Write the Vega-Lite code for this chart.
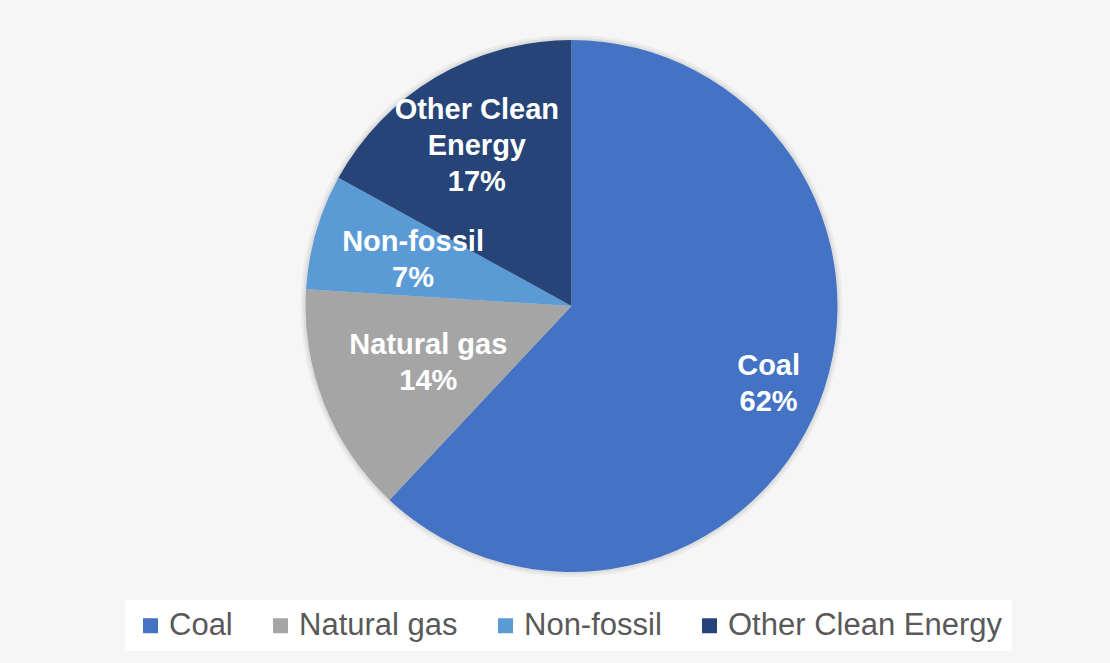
{
  "$schema": "https://vega.github.io/schema/vega-lite/v6.json",
  "width": 1077,
  "height": 590,
  "autosize": {"type": "none"},
  "padding": {"left": 33, "top": 11, "right": 0, "bottom": 62},
  "background": "#f6f6f6",
  "config": {"view": {"stroke": null}},
  "data": {
    "values": [
      {"category": "Coal", "share": 62, "label": "Coal|62%"},
      {"category": "Natural gas", "share": 14, "label": "Natural gas|14%"},
      {"category": "Non-fossil", "share": 7, "label": "Non-fossil|7%"},
      {"category": "Other Clean Energy", "share": 17, "label": "Other Clean|Energy|17%"}
    ]
  },
  "encoding": {
    "theta": {"field": "share", "type": "quantitative", "stack": true},
    "order": {"field": "category", "sort": "ascending"}
  },
  "layer": [
    {
      "mark": {"type": "arc", "radius": 271, "fill": "#000000", "opacity": 0.04},
      "encoding": {"detail": {"field": "category"}}
    },
    {
      "mark": {"type": "arc", "radius": 268.5, "fill": "#000000", "opacity": 0.06},
      "encoding": {"detail": {"field": "category"}}
    },
    {
      "mark": {"type": "arc", "radius": 266},
      "encoding": {
        "color": {
          "field": "category",
          "type": "nominal",
          "scale": {
            "domain": ["Coal", "Natural gas", "Non-fossil", "Other Clean Energy"],
            "range": ["#4472C4", "#A5A5A5", "#5B9BD5", "#264478"]
          },
          "legend": {
            "title": null,
            "orient": "none",
            "legendX": 92,
            "legendY": 589,
            "direction": "horizontal",
            "symbolType": "square",
            "symbolSize": 225,
            "symbolStrokeWidth": 0,
            "labelFont": "Liberation Sans",
            "labelFontSize": 31,
            "labelColor": "#595959",
            "labelOffset": 3,
            "columnPadding": 32,
            "fillColor": "#ffffff",
            "padding": 10,
            "labelLimit": 400
          }
        }
      }
    },
    {
      "mark": {
        "type": "text",
        "radius": {"expr": "datum.category === 'Coal' ? 212 : datum.category === 'Natural gas' ? 154 : datum.category === 'Non-fossil' ? 165 : 186"},
        "dy": {"expr": "datum.category === 'Other Clean Energy' ? -36 : -18"},
        "font": "Liberation Sans",
        "fontWeight": "bold",
        "fontSize": 29,
        "lineBreak": "|",
        "lineHeight": 36,
        "color": "#ffffff",
        "align": "center",
        "baseline": "middle"
      },
      "encoding": {
        "detail": {"field": "category"},
        "text": {"field": "label", "type": "nominal"}
      }
    }
  ]
}
